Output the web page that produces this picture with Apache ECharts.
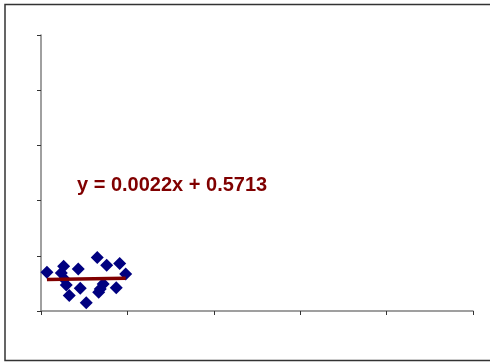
<!DOCTYPE html>
<html>
<head>
<meta charset="utf-8">
<script src="https://cdn.jsdelivr.net/npm/echarts@6/dist/echarts.min.js"></script>
<style>
  html, body { margin: 0; padding: 0; background: #fff; }
  #chart { width: 490px; height: 363px; }
</style>
</head>
<body>
<div id="chart"></div>
<script>
// Observations (x, y)
const xValues = [0.69, 2.62, 2.35, 2.70, 2.92, 3.27, 4.31, 4.54, 5.24, 6.51, 7.60, 9.11, 9.80, 7.20, 6.86, 6.68, 8.71];
const yValues = [0.70, 0.81, 0.69, 0.58, 0.47, 0.28, 0.76, 0.41, 0.15, 0.97, 0.83, 0.86, 0.67, 0.49, 0.40, 0.34, 0.42];

// Linear trend fitted to the observations
const slope = 0.0022;
const intercept = 0.5713;

const points = xValues.map((x, i) => [x, yValues[i]]);
const xMin = Math.min(...xValues);
const xMax = Math.max(...xValues);
const trend = [[xMin, slope * xMin + intercept], [xMax, slope * xMax + intercept]];

const chart = echarts.init(document.getElementById('chart'), null, { renderer: 'canvas' });

const axisCommon = {
  axisLine: { show: true, onZero: false, lineStyle: { color: '#808080', width: 1.5 } },
  axisTick: { show: true, length: 4, lineStyle: { color: '#333', width: 1 } },
  axisLabel: { show: false },
  splitLine: { show: false }
};

chart.setOption({
  animation: false,
  backgroundColor: '#fff',
  grid: { left: 41, right: 17, top: 35, bottom: 52, containLabel: false },
  xAxis: Object.assign({ type: 'value', min: 0, max: 50, interval: 10 }, axisCommon),
  yAxis: Object.assign({ type: 'value', min: 0, max: 5, interval: 1 }, axisCommon),
  graphic: [
    {
      type: 'rect',
      shape: { x: 5, y: 4.5, width: 520, height: 356 },
      style: { fill: 'none', stroke: '#333', lineWidth: 1.5 },
      silent: true
    },
    {
      type: 'text',
      left: 77,
      top: 175,
      style: {
        text: 'y = ' + slope.toFixed(4) + 'x + ' + intercept.toFixed(4),
        fill: '#800000',
        font: 'bold 20px "Liberation Sans", Arial, sans-serif'
      }
    }
  ],
  series: [
    {
      type: 'scatter',
      data: points,
      symbol: 'diamond',
      symbolSize: [13, 13],
      itemStyle: { color: '#000080', opacity: 1 },
      z: 2
    },
    {
      type: 'line',
      data: trend,
      symbol: 'none',
      lineStyle: { color: '#800000', width: 3.5 },
      z: 3
    }
  ]
});
</script>
</body>
</html>
